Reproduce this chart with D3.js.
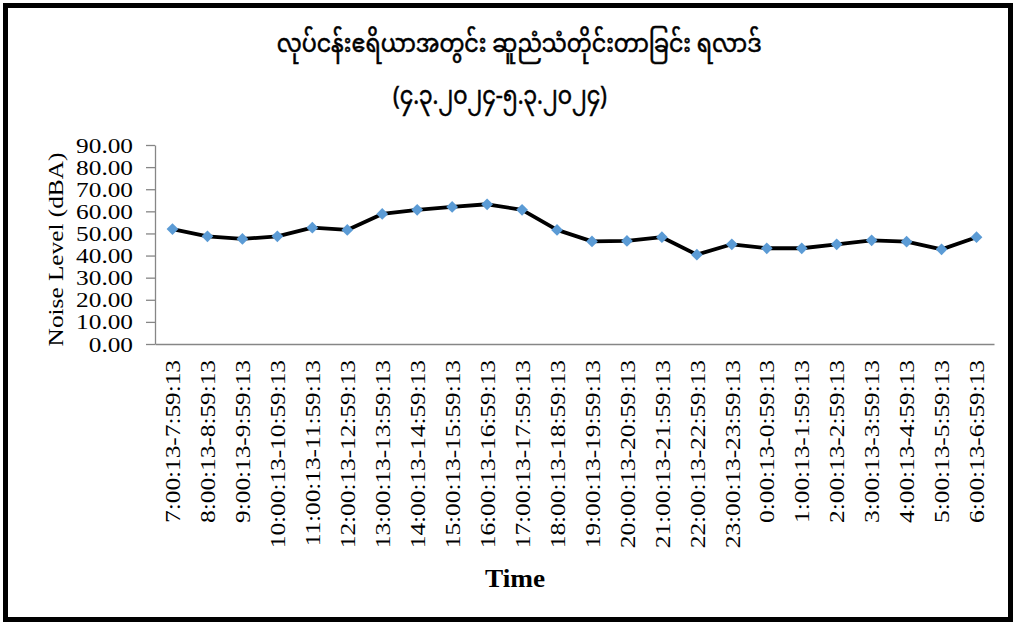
<!DOCTYPE html>
<html>
<head>
<meta charset="utf-8">
<script src="https://cdn.jsdelivr.net/npm/d3@7"></script>
<style>
  html, body { margin: 0; padding: 0; background: #fff; }
  svg { display: block; }
</style>
</head>
<body>
<svg id="chart" width="1016" height="624"></svg>
<script>
// Hourly noise readings, 7:00 on 4.3.2024 through 6:59 on 5.3.2024
const timeSlots = [
  "7:00:13-7:59:13", "8:00:13-8:59:13", "9:00:13-9:59:13", "10:00:13-10:59:13",
  "11:00:13-11:59:13", "12:00:13-12:59:13", "13:00:13-13:59:13", "14:00:13-14:59:13",
  "15:00:13-15:59:13", "16:00:13-16:59:13", "17:00:13-17:59:13", "18:00:13-18:59:13",
  "19:00:13-19:59:13", "20:00:13-20:59:13", "21:00:13-21:59:13", "22:00:13-22:59:13",
  "23:00:13-23:59:13", "0:00:13-0:59:13", "1:00:13-1:59:13", "2:00:13-2:59:13",
  "3:00:13-3:59:13", "4:00:13-4:59:13", "5:00:13-5:59:13", "6:00:13-6:59:13"
];
const noiseLevels = [
  52.0, 48.7, 47.5, 48.7, 52.6, 51.6, 58.8, 60.7, 62.0, 63.2, 60.7, 51.6,
  46.4, 46.6, 48.3, 40.4, 45.1, 43.3, 43.3, 45.1, 46.9, 46.3, 42.8, 48.3
];
const yTicks = [0, 10, 20, 30, 40, 50, 60, 70, 80, 90];
const titleLines = [
  "လုပ်ငန်းဧရိယာအတွင်း ဆူညံသံတိုင်းတာခြင်း ရလာဒ်",
  "(၄.၃.၂၀၂၄-၅.၃.၂၀၂၄)"
];
const yTitle = "Noise Level (dBA)";
const xTitle = "Time";

const svg = d3.select("#chart");
const W = 1016, H = 624;
const plot = { left: 155, right: 994, top: 145, bottom: 344 };
const serif = "'Liberation Serif', 'Times New Roman', serif";
const myanmarFont = "'Noto Sans Myanmar', 'Myanmar Text', 'Padauk', 'Noto Sans', sans-serif";
const widen = 1.15; // serif labels are set slightly wide along their baseline

// outer frame
svg.append("rect")
  .attr("x", 5.5).attr("y", 5.5)
  .attr("width", W - 11).attr("height", H - 10)
  .attr("fill", "none").attr("stroke", "#000").attr("stroke-width", 5);

const x = d3.scaleBand().domain(timeSlots).range([plot.left, plot.right]);
const y = d3.scaleLinear().domain([0, 90]).range([plot.bottom, plot.top]);

// title: each line is fitted to its set width
const titleSpec = [
  { cx: 519, base: 52, width: 485, size: 26 },
  { cx: 500, base: 104, width: 214, size: 26 }
];
svg.append("g").selectAll("text").data(titleLines).join("text")
  .attr("text-anchor", "middle")
  .attr("font-family", myanmarFont)
  .attr("font-size", (d, i) => titleSpec[i].size)
  .attr("fill", "#000")
  .attr("stroke", "#000").attr("stroke-width", 0.6)
  .text(d => d)
  .each(function (d, i) {
    const s = titleSpec[i];
    const len = this.getComputedTextLength();
    d3.select(this).attr("transform", `translate(${s.cx},${s.base}) scale(${s.width / len},1)`);
  });

// y axis
const yAxis = svg.append("g")
  .attr("transform", `translate(${plot.left},0)`)
  .call(d3.axisLeft(y).tickValues(yTicks).tickFormat(d3.format(".2f")).tickSize(9).tickSizeOuter(0));
yAxis.select(".domain").attr("stroke", "#868686").attr("stroke-width", 1.3);
yAxis.selectAll(".tick line").attr("stroke", "#868686").attr("stroke-width", 1.3);
yAxis.selectAll(".tick text")
  .attr("x", null)
  .attr("transform", `translate(-22,0) scale(${widen},1)`)
  .attr("font-family", serif).attr("font-size", 22).attr("fill", "#000");

// x axis
const xAxis = svg.append("g")
  .attr("transform", `translate(0,${plot.bottom})`)
  .call(d3.axisBottom(x).tickSize(0).tickSizeOuter(0));
xAxis.select(".domain").attr("stroke", "#868686").attr("stroke-width", 1.3);
xAxis.selectAll(".tick text")
  .attr("transform", `translate(0,16) rotate(-90) scale(${widen},1)`)
  .attr("text-anchor", "end")
  .attr("x", 0).attr("y", 0).attr("dy", "0.35em")
  .attr("font-family", serif).attr("font-size", 22).attr("fill", "#000");

// axis titles
svg.append("text")
  .attr("transform", `translate(63,${(plot.top + plot.bottom) / 2 + 5}) rotate(-90) scale(${widen},1)`)
  .attr("text-anchor", "middle")
  .attr("font-family", serif).attr("font-size", 22).attr("fill", "#000")
  .text(yTitle);
svg.append("text")
  .attr("transform", `translate(515,587) scale(1.05,1)`)
  .attr("text-anchor", "middle")
  .attr("font-family", serif).attr("font-size", 26).attr("font-weight", "bold").attr("fill", "#000")
  .text(xTitle);

// series
const cx = d => x(d) + x.bandwidth() / 2;
const line = d3.line().x((d, i) => cx(timeSlots[i])).y(d => y(d));
svg.append("path")
  .datum(noiseLevels)
  .attr("d", line)
  .attr("fill", "none").attr("stroke", "#000").attr("stroke-width", 3.8)
  .attr("stroke-linejoin", "round");

svg.append("g").selectAll("path").data(noiseLevels).join("path")
  .attr("d", d3.symbol(d3.symbolDiamond2, 88)())
  .attr("transform", (d, i) => `translate(${cx(timeSlots[i])},${y(d)})`)
  .attr("fill", "#5B9BD5");
</script>
</body>
</html>
